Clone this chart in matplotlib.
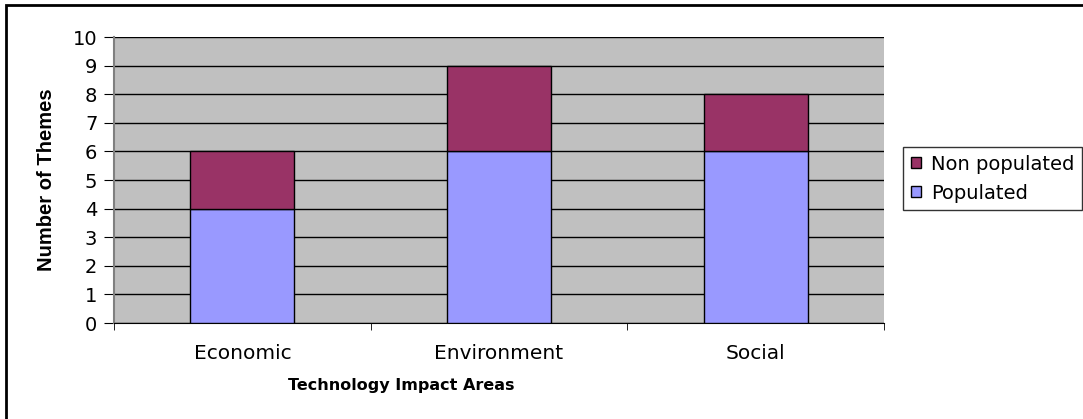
import matplotlib.pyplot as plt
import numpy as np
from matplotlib.patches import Rectangle

categories = ['Economic', 'Environment', 'Social']
populated = [4, 6, 6]
non_populated = [2, 3, 2]

plt.rcParams['font.family'] = ['DejaVu Sans']

fig = plt.figure(figsize=(10.83, 4.19), dpi=100)
ax = fig.add_axes([114 / 1083, 1 - 323 / 419, 770 / 1083, 286 / 419])
ax.set_facecolor('#C0C0C0')

x = np.arange(len(categories))
w = 0.405
ax.bar(x, populated, w, color='#9999FF', edgecolor='black', linewidth=1,
       label='Populated', zorder=3)
ax.bar(x, non_populated, w, bottom=populated, color='#993366',
       edgecolor='black', linewidth=1, label='Non populated', zorder=3)

ax.set_xlim(-0.5, 2.5)
ax.set_ylim(0, 10)
ax.set_yticks(range(0, 11))
ax.yaxis.grid(True, color='black', linewidth=1, zorder=1)
ax.set_axisbelow(True)

ax.set_xticks(x)
ax.set_xticklabels(categories, fontsize=14.5)
ax.set_xticks([-0.5, 0.5, 1.5, 2.5], minor=True)
ax.tick_params(axis='x', which='major', length=0, pad=15)
ax.tick_params(axis='x', which='minor', length=5, direction='out')
ax.tick_params(axis='y', labelsize=14, length=7, direction='out', pad=5)

for s in ['top', 'right']:
    ax.spines[s].set_visible(False)
ax.spines['left'].set_color('#808080')
ax.spines['left'].set_linewidth(1.5)
ax.spines['bottom'].set_color('black')

ax.set_xlabel('Technology Impact Areas', fontsize=11.5, fontweight='bold')
ax.xaxis.set_label_coords((401 - 114) / 770, -(385 - 323) / 286)
ax.xaxis.label.set_va('center')
ax.set_ylabel('Number of Themes', fontsize=14.5, fontweight='bold', labelpad=12,
              family=['Liberation Sans'])

h, l = ax.get_legend_handles_labels()
leg = fig.legend(h[::-1], l[::-1], loc='upper left',
                 bbox_to_anchor=(903 / 1083, 1 - 147 / 419), fontsize=14,
                 frameon=True, fancybox=False, edgecolor='black',
                 handlelength=0.5, handleheight=0.5, handletextpad=0.55,
                 borderaxespad=0, borderpad=0.4, labelspacing=0.5)
leg.get_frame().set_linewidth(1)

fig.add_artist(Rectangle((6 / 1083, -0.1), 2, 1 - 5 / 419 + 0.1,
                         transform=fig.transFigure, fill=False,
                         edgecolor='black', linewidth=2))

fig.savefig('out.png', dpi=100, facecolor='white')
